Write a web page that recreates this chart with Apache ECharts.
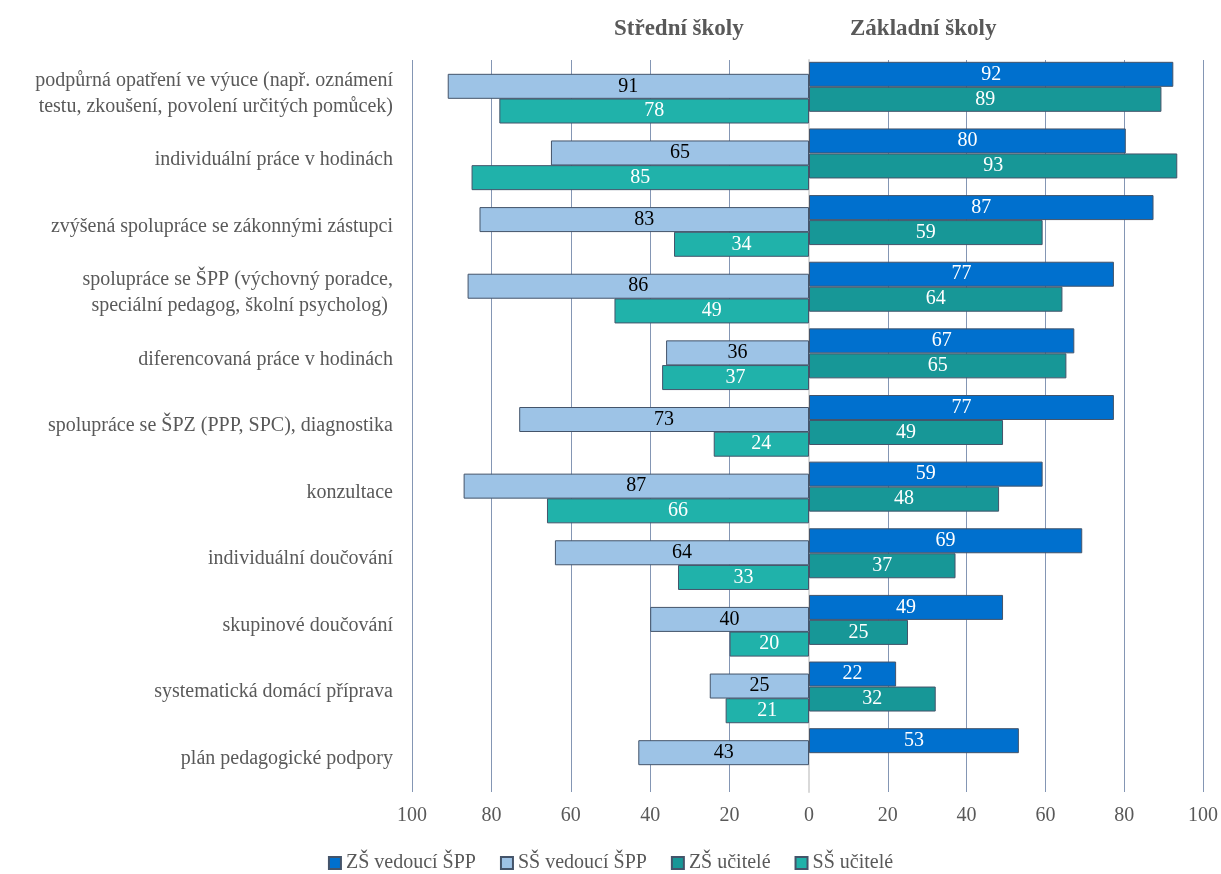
<!DOCTYPE html>
<html>
<head>
<meta charset="utf-8">
<script src="https://cdn.jsdelivr.net/npm/echarts@6/dist/echarts.min.js"></script>
<style>
  html, body { margin: 0; padding: 0; background: #fff; }
  #chart { width: 1221px; height: 874px; }
</style>
</head>
<body>
<div id="chart"></div>
<script>
// kategorie (shora dolů)
const categories = [
  'podpůrná opatření ve výuce (např. oznámení\ntestu, zkoušení, povolení určitých pomůcek)',
  'individuální práce v hodinách',
  'zvýšená spolupráce se zákonnými zástupci',
  'spolupráce se ŠPP (výchovný poradce,\nspeciální pedagog, školní psycholog) ',
  'diferencovaná práce v hodinách',
  'spolupráce se ŠPZ (PPP, SPC), diagnostika',
  'konzultace',
  'individuální doučování',
  'skupinové doučování',
  'systematická domácí příprava',
  'plán pedagogické podpory'
];

// hodnoty v %
const zsVedouci = [92, 80, 87, 77, 67, 77, 59, 69, 49, 22, 53];
const zsUcitele = [89, 93, 59, 64, 65, 49, 48, 37, 25, 32, null];
const ssVedouci = [91, 65, 83, 86, 36, 73, 87, 64, 40, 25, 43];
const ssUcitele = [78, 85, 34, 49, 37, 24, 66, 33, 20, 21, null];

const FONT = '"Liberation Serif", "Times New Roman", serif';
const GRAY = '#595959';
const GRID_LINE = '#8496b4';
const BORDER = '#44546a';

const chart = echarts.init(document.getElementById('chart'));

// pomocné osy pro skryté mřížky se sloupci
const hiddenCat = (gridIndex) => ({
  type: 'category', gridIndex, data: categories, inverse: true, show: false
});
const hiddenVal = (gridIndex, inverse) => ({
  type: 'value', gridIndex, min: 0, max: 100, inverse, show: false
});

const barSeries = (name, data, color, textColor, xi) => ({
  name,
  type: 'bar',
  xAxisIndex: xi,
  yAxisIndex: xi,
  data,
  barWidth: 25,
  itemStyle: { color, borderColor: BORDER, borderWidth: 1 },
  label: {
    show: true,
    position: 'inside',
    color: textColor,
    fontFamily: FONT,
    fontSize: 20
  },
  z: 3
});

const option = {
  animation: false,
  backgroundColor: '#fff',
  title: [
    { text: 'Střední školy', left: 609, top: 13,
      textStyle: { fontFamily: FONT, fontSize: 23, fontWeight: 'bold', color: GRAY } },
    { text: 'Základní školy', left: 845, top: 13,
      textStyle: { fontFamily: FONT, fontSize: 23, fontWeight: 'bold', color: GRAY } }
  ],
  legend: {
    data: ['ZŠ vedoucí ŠPP', 'SŠ vedoucí ŠPP', 'ZŠ učitelé', 'SŠ učitelé'],
    left: 'center',
    top: 848,
    icon: 'rect',
    itemWidth: 12,
    itemHeight: 12,
    itemGap: 24,
    textStyle: { fontFamily: FONT, fontSize: 20, color: GRAY }
  },
  grid: [
    // mřížky s popisky a čarami
    { left: 412, right: 412, top: 60, bottom: 82 },
    { left: 809, right: 16, top: 60, bottom: 82 },
    // mřížky se sloupci (posunuté jako v originálu)
    { left: 412, right: 412, top: 53, bottom: 88 },    // SŠ vedoucí
    { left: 412, right: 412, top: 77.7, bottom: 63.3 },// SŠ učitelé
    { left: 809, right: 16, top: 41, bottom: 100 },    // ZŠ vedoucí
    { left: 809, right: 16, top: 66, bottom: 75 }      // ZŠ učitelé
  ],
  xAxis: [
    {
      type: 'value', gridIndex: 0, min: 0, max: 100, interval: 20, inverse: true,
      axisLine: { show: false }, axisTick: { show: false },
      splitLine: { show: true, lineStyle: { color: GRID_LINE, width: 1 } },
      axisLabel: { fontFamily: FONT, fontSize: 20, color: GRAY, margin: 14 }
    },
    {
      type: 'value', gridIndex: 1, min: 0, max: 100, interval: 20,
      axisLine: { show: false }, axisTick: { show: false },
      splitLine: { show: true, lineStyle: { color: GRID_LINE, width: 1 } },
      axisLabel: {
        fontFamily: FONT, fontSize: 20, color: GRAY, margin: 14,
        formatter: (v) => (v === 0 ? '' : v)
      }
    },
    hiddenVal(2, true),
    hiddenVal(3, true),
    hiddenVal(4, false),
    hiddenVal(5, false)
  ],
  yAxis: [
    {
      type: 'category', gridIndex: 0, data: categories, inverse: true,
      axisLine: { show: false }, axisTick: { show: false },
      axisLabel: {
        fontFamily: FONT, fontSize: 20, color: GRAY, margin: 19,
        lineHeight: 26, align: 'right'
      }
    },
    {
      type: 'category', gridIndex: 1, data: categories, inverse: true,
      axisLine: { show: true, lineStyle: { color: '#d9d9d9', width: 2 } },
      axisTick: { show: false },
      axisLabel: { show: false }
    },
    hiddenCat(2),
    hiddenCat(3),
    hiddenCat(4),
    hiddenCat(5)
  ],
  series: [
    barSeries('ZŠ vedoucí ŠPP', zsVedouci, '#0070ce', '#fff', 4),
    barSeries('SŠ vedoucí ŠPP', ssVedouci, '#9dc3e6', '#000', 2),
    barSeries('ZŠ učitelé', zsUcitele, '#179797', '#fff', 5),
    barSeries('SŠ učitelé', ssUcitele, '#20b2aa', '#fff', 3)
  ]
};

chart.setOption(option);
</script>
</body>
</html>
